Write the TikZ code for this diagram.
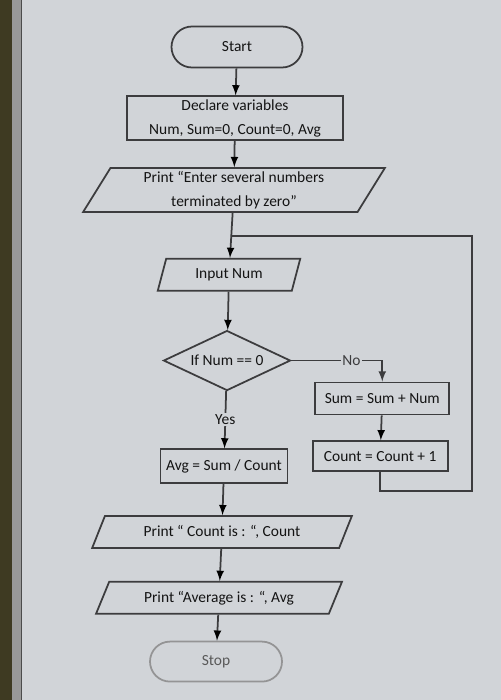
\documentclass[tikz,border=0pt]{standalone}
\usepackage{fontspec}
\setmainfont{Carlito}
\usetikzlibrary{positioning,shapes,calc,arrows}
\definecolor{screen}{RGB}{209,212,216}
\definecolor{ink}{RGB}{60,60,62}
\definecolor{frame}{RGB}{62,58,34}
\tikzstyle{term}=[rounded rectangle,draw=ink,line width=1pt,minimum width=2.62cm,minimum height=0.82cm,inner sep=0pt]
\tikzstyle{proc}=[rectangle,draw=ink,line width=1pt,inner sep=0pt,align=center]
\tikzstyle{io}=[trapezium,trapezium stretches=true,trapezium left angle=62,trapezium right angle=118,draw=ink,line width=1pt,inner sep=0pt,align=center]
\tikzstyle{decision}=[diamond,draw=ink,line width=1pt,inner sep=0pt,minimum width=2.54cm,minimum height=1.2cm,aspect=2]
\tikzstyle{tag}=[fill=screen,inner sep=1pt]

\begin{document}
\begin{tikzpicture}[>=latex, font=\fontsize{8.8}{13.6}\selectfont, text=black!92]
            % SCREEN PART
            \useasboundingbox (0,0) rectangle (10.02,-14);
            \fill[screen] (0,0) rectangle (10.02,-14);
            \fill[frame] (0,0) rectangle (0.24,-14);
            \fill[black!40] (0.24,0) rectangle (0.42,-14);
            \draw[black!70,line width=0.6pt] (0.43,0) -- (0.43,-14);

            % MAIN PART

            \node[term] (start) at (4.74,-0.94) {Start};
            \node[proc,below=0.54cm of start,xshift=-0.04cm,minimum width=4.32cm,minimum height=0.88cm] (decl) {Declare variables\\Num, Sum=0, Count=0, Avg};
            \node[io,below=0.52cm of decl,xshift=-0.02cm,minimum width=6.04cm,minimum height=0.88cm] (prompt) {Print \textquotedblleft Enter several numbers\\terminated by zero\textquotedblright};
            \node[io,below=0.9cm of prompt,xshift=-0.1cm,trapezium left angle=70,trapezium right angle=110,minimum width=2.86cm,minimum height=0.64cm] (input) {Input Num};
            \node[decision,below=0.76cm of input,xshift=-0.04cm] (dec) {If Num == 0};
            \node[proc,below=1.14cm of dec,xshift=-0.06cm,minimum width=2.54cm,minimum height=0.68cm] (avg) {Avg = Sum / Count};
            \node[io,below=0.62cm of avg,xshift=-0.04cm,trapezium left angle=57,trapezium right angle=123,minimum width=5.2cm,minimum height=0.64cm] (pcount) {Print \textquotedblleft\ Count is : \textquotedblleft, Count};
            \node[io,below=0.64cm of pcount,xshift=-0.06cm,trapezium left angle=57,trapezium right angle=123,minimum width=4.96cm,minimum height=0.64cm] (pavg) {Print \textquotedblleft Average is : \textquotedblleft, Avg};
            \node[term,below=0.52cm of pavg,xshift=-0.06cm,draw=ink!55,minimum width=2.64cm,minimum height=0.8cm,text=black!65] (stop) {Stop};

            % LOOP PART

            \node[proc,below right=0.42cm and 0.46cm of dec.east,minimum width=2.68cm,minimum height=0.64cm] (sum) {Sum = Sum + Num};
            \node[proc,below=0.5cm of sum,xshift=-0.04cm,minimum width=2.7cm,minimum height=0.6cm] (count) {Count = Count + 1};
            \coordinate (join) at ($(prompt.south)!0.52!(input.north)$);
            \coordinate[right=0.44cm of sum.east] (loopR);

            \path[-latex,draw=ink,line width=1pt] (start) edge node {} (decl);
            \path[-latex,draw=ink,line width=1pt] (decl) edge node {} (prompt);
            \path[-latex,draw=ink,line width=1pt] (prompt) edge node {} (input);
            \path[-latex,draw=ink,line width=1pt] (input) edge node {} (dec);
            \path[-latex,draw=ink,line width=1pt] (dec) edge node[tag] {Yes} (avg);
            \path[-latex,draw=ink,line width=1pt] (avg) edge node {} (pcount);
            \path[-latex,draw=ink,line width=1pt] (pcount) edge node {} (pavg);
            \path[-latex,draw=ink,line width=1pt] (pavg) edge node {} (stop);
            \draw[-latex,ink,line width=1pt] (dec.east) -- node[tag,pos=0.66] {No} (sum.north |- dec.east) -- (sum.north);
            \path[-latex,draw=ink,line width=1pt] (sum) edge node {} (count);
            \draw[ink,line width=1pt] (count.south) -- ++(0,-0.38cm) -| (loopR |- join) -- (join);

        \end{tikzpicture}
\end{document}
